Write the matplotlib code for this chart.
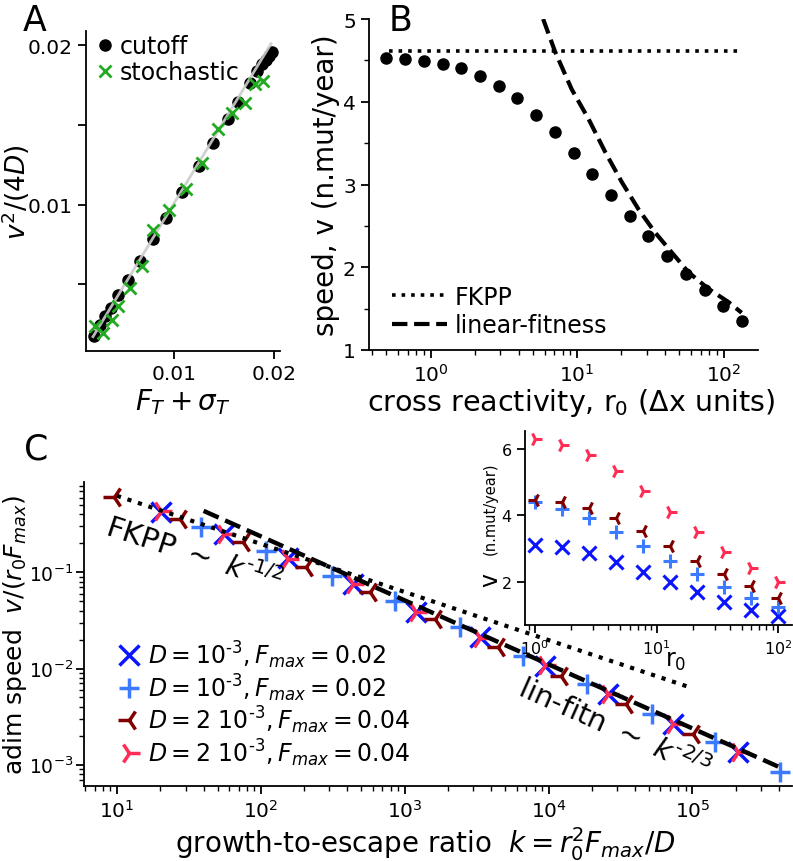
import matplotlib
matplotlib.use("Agg")
import matplotlib.pyplot as plt

# ---- panel A data ----
cut_x = [0.00203, 0.0026, 0.0031, 0.0037, 0.00443, 0.00543, 0.0066, 0.00787, 0.0092,
         0.01077, 0.0125, 0.01393, 0.01543, 0.01643, 0.0176, 0.01827, 0.0188, 0.0192,
         0.0195, 0.0198]
cut_y = [0.00176, 0.00245, 0.00297, 0.00352, 0.00434, 0.00528, 0.00643, 0.00784, 0.00916,
         0.01077, 0.01241, 0.01388, 0.01539, 0.01644, 0.01766, 0.01839, 0.0188, 0.0191,
         0.0193, 0.0196]
sto_x = [0.0021, 0.00293, 0.00377, 0.00443, 0.0056, 0.00677, 0.00793, 0.00953, 0.0112,
         0.01277, 0.01443, 0.01577, 0.0171, 0.0181, 0.0189]
sto_y = [0.00235, 0.00193, 0.00277, 0.0036, 0.00476, 0.00612, 0.00843, 0.00964, 0.01099,
         0.01262, 0.01472, 0.01577, 0.0164, 0.01755, 0.01774]
diag_x = [0.0019, 0.0197]
diag_y = [0.0017, 0.0201]

# ---- panel B data ----
r0_b = [0.5, 0.67, 0.90, 1.21, 1.62, 2.18, 2.92, 3.92, 5.26, 7.06,
        9.47, 12.7, 17.1, 22.9, 30.7, 41.2, 55.3, 74.2, 99.6, 133.6]
v_b = [4.525, 4.517, 4.492, 4.456, 4.408, 4.315, 4.194, 4.045, 3.844, 3.630,
       3.381, 3.127, 2.877, 2.619, 2.374, 2.140, 1.918, 1.725, 1.536, 1.355]
fkpp_x = [0.52, 133.0]
fkpp_y = [4.61, 4.61]
lin_x = [5.87, 7.1, 9.2, 12.0, 15.6, 20.2, 26.3, 34.1, 44.3, 57.6, 78.8, 108.0, 133.0]
lin_y = [5.0, 4.60, 4.15, 3.79, 3.39, 3.03, 2.70, 2.42, 2.18, 1.94, 1.74, 1.58, 1.45]

# ---- panel C data ----
k_x = [20.1, 55.2, 154.5, 437, 1208, 3327, 9420, 25900, 73600, 208000]
y_x = [0.426, 0.250, 0.140, 0.0756, 0.0384, 0.0211, 0.0107, 0.00543, 0.00265, 0.00135]
k_p = [38.6, 109, 310, 853, 2415, 6650, 18370, 52000, 143600, 405000]
y_p = [0.294, 0.168, 0.0922, 0.0507, 0.0268, 0.0136, 0.0069, 0.00337, 0.00171, 0.000834]
k_dr = [9.6, 27.3, 75.2, 207, 572, 1620, 4470, 12300, 34800, 101000]
y_dr = [0.611, 0.358, 0.205, 0.113, 0.062, 0.0327, 0.0166, 0.0084, 0.00428, 0.00208]
k_r = [20.1, 55.2, 154.5, 437, 1208, 3327, 9420, 25900, 73600, 208000]
y_r = [0.43, 0.248, 0.138, 0.0760, 0.0388, 0.0210, 0.0108, 0.00545, 0.00263, 0.00136]
fk_line_x = [10, 1e5]
fk_line_y = [0.625, 0.00625]
lf_line_x = [40, 4.05e5]
lf_line_y = [0.436, 0.00094]

# inset
r0_in = [1, 1.67, 2.78, 4.64, 7.74, 12.9, 21.5, 35.9, 59.9, 100]
v_in_x = [3.11, 3.04, 2.86, 2.60, 2.30, 1.98, 1.68, 1.38, 1.16, 0.97]
v_in_p = [4.39, 4.19, 3.91, 3.51, 3.09, 2.63, 2.23, 1.85, 1.51, 1.23]
v_in_dr = [4.47, 4.39, 4.21, 3.91, 3.54, 3.09, 2.63, 2.25, 1.88, 1.50]
v_in_r = [6.30, 6.12, 5.82, 5.35, 4.74, 4.11, 3.49, 2.91, 2.41, 2.00]

labels_c = [r'$D=10^{\text{-}3}, F_{max}=0.02$', r'$D=10^{\text{-}3}, F_{max}=0.02$',
            r'$D=2\ 10^{\text{-}3}, F_{max}=0.04$', r'$D=2\ 10^{\text{-}3}, F_{max}=0.04$']

c_blue = '#0a14ff'
c_lblue = '#3c7bff'
c_dred = '#800000'
c_red = '#ff2d55'

W, H = 793, 862
fig = plt.figure(figsize=(W / 100, H / 100), dpi=100)


def box(l, t, r, b):
    return [l / W, 1 - b / H, (r - l) / W, (b - t) / H]


def style(ax, size=14.5):
    for s in ['top', 'right']:
        ax.spines[s].set_visible(False)
    for s in ['left', 'bottom']:
        ax.spines[s].set_linewidth(1.3)
    ax.tick_params(which='major', length=6, width=1.3, labelsize=size)
    ax.tick_params(which='minor', length=3.5, width=1.0)


# ---------- A ----------
axA = fig.add_axes(box(86, 32, 280, 352))
style(axA)
axA.plot(cut_x, cut_y, 'o', color='black', ms=8, label='cutoff', zorder=2)
axA.plot(diag_x, diag_y, '-', color='#cccccc', lw=2, alpha=0.9, zorder=3)
axA.plot(sto_x, sto_y, 'x', color='#22aa22', ms=8, mew=2, label='stochastic', zorder=4)
axA.set_xlim(0.0012, 0.0206)
axA.set_ylim(0.0008, 0.0209)
axA.set_xticks([0.01, 0.02])
axA.set_xticklabels(['0.01', '0.02'])
axA.set_yticks([0.005, 0.01, 0.015, 0.02])
axA.set_yticklabels(['', '0.01', '', '0.02'])
axA.set_xlabel(r'$F_T + \sigma_T$', fontsize=20)
axA.xaxis.set_label_coords(0.5, -0.11)
axA.set_ylabel(r'$v^2/(4D)$', fontsize=19)
axA.yaxis.set_label_coords(-0.28, 0.5)
axA.legend(loc='center left', bbox_to_anchor=(-0.01, 0.912), frameon=False, fontsize=17,
           handlelength=0.8, handletextpad=0.2, labelspacing=0.1, borderpad=0)

# ---------- B ----------
axB = fig.add_axes(box(369, 20, 758, 351))
style(axB)
axB.plot(fkpp_x, fkpp_y, ':', color='black', lw=2.6, label='FKPP')
axB.plot(lin_x, lin_y, '--', color='black', lw=3, label='linear-fitness')
axB.plot(r0_b, v_b, 'o', color='black', ms=8)
axB.set_xscale('log')
axB.set_xlim(0.38, 172)
axB.set_ylim(1, 5)
axB.set_yticks([1, 2, 3, 4, 5])
axB.set_yticks([1.5, 2.5, 3.5, 4.5], minor=True)
axB.set_xlabel(r'cross reactivity, r$_0$ ($\Delta$x units)', fontsize=20.5)
axB.xaxis.set_label_coords(0.52, -0.11)
axB.set_ylabel('speed, v (n.mut/year)', fontsize=20)
axB.yaxis.set_label_coords(-0.075, 0.5)
axB.legend(loc='center left', bbox_to_anchor=(0.03, 0.118), frameon=False, fontsize=17,
           handlelength=2.3, handletextpad=0.35, labelspacing=0.2, borderpad=0)

# ---------- C ----------
axC = fig.add_axes(box(84, 483, 791.7, 786.7))
style(axC)
axC.tick_params(axis='y', which='major', labelsize=13.5, pad=2)
axC.plot(fk_line_x, fk_line_y, ':', color='black', lw=3, zorder=3)
axC.plot(lf_line_x, lf_line_y, '--', color='black', lw=3.2, zorder=3)
axC.plot(k_x, y_x, 'x', color=c_blue, ms=14, mew=2.5, label=labels_c[0], linestyle='none')
axC.plot(k_p, y_p, '+', color=c_lblue, ms=14, mew=2.5, label=labels_c[1], linestyle='none')
axC.plot(k_dr, y_dr, '3', color=c_dred, ms=16, mew=2.5, label=labels_c[2], linestyle='none')
axC.plot(k_r, y_r, '4', color=c_red, ms=16, mew=2.5, label=labels_c[3], linestyle='none')
axC.set_xscale('log')
axC.set_yscale('log')
axC.set_xlim(5.9, 4.9e5)
axC.set_ylim(6.05e-4, 0.87)
axC.set_xlabel(r'growth-to-escape ratio  $k = r_0^2F_{max}/D$', fontsize=20)
axC.xaxis.set_label_coords(0.482, -0.125)
axC.set_ylabel(r'adim speed  $v/(r_0F_{max})$', fontsize=18)
axC.yaxis.set_label_coords(-0.078, 0.5)
axC.text(34, 0.155, r'FKPP $\sim$ $k^{\text{-}1/2}$', fontsize=21, rotation=-18,
         ha='center', va='center')
axC.text(28500, 0.0024, r'lin-fitn $\sim$ $k^{\text{-}2/3}$', fontsize=21, rotation=-24,
         ha='center', va='center')
axC.legend(loc='center left', bbox_to_anchor=(0.03, 0.272), frameon=False, fontsize=17,
           handlelength=1.0, handletextpad=0.3, labelspacing=0.05, borderpad=0)

# ---------- inset ----------
axI = fig.add_axes(box(525, 431.7, 791.7, 626))
style(axI, 11.5)
axI.plot(r0_in, v_in_x, 'x', color=c_blue, ms=10, mew=2.2, linestyle='none')
axI.plot(r0_in, v_in_p, '+', color=c_lblue, ms=10, mew=2.2, linestyle='none')
axI.plot(r0_in, v_in_dr, '3', color=c_dred, ms=10, mew=2.2, linestyle='none')
axI.plot(r0_in, v_in_r, '4', color=c_red, ms=10, mew=2.2, linestyle='none')
axI.set_xscale('log')
axI.set_xlim(0.83, 129)
axI.set_ylim(0.7, 6.55)
axI.set_yticks([2, 4, 6])
axI.set_xlabel(r'r$_0$', fontsize=17)
axI.xaxis.set_label_coords(0.566, -0.12)
axI.text(-0.131, 0.237, 'v', fontsize=17, rotation=90, ha='center', va='center',
         transform=axI.transAxes)
axI.text(-0.13, 0.605, '(n.mut/year)', fontsize=10.5, rotation=90, ha='center', va='center',
         transform=axI.transAxes)

# panel letters
fig.text(35 / W, 1 - 21 / H, 'A', fontsize=25, ha='center', va='center')
fig.text(401 / W, 1 - 21 / H, 'B', fontsize=25, ha='center', va='center')
fig.text(36 / W, 1 - 450 / H, 'C', fontsize=25, ha='center', va='center')

fig.savefig('out.png', dpi=100)
